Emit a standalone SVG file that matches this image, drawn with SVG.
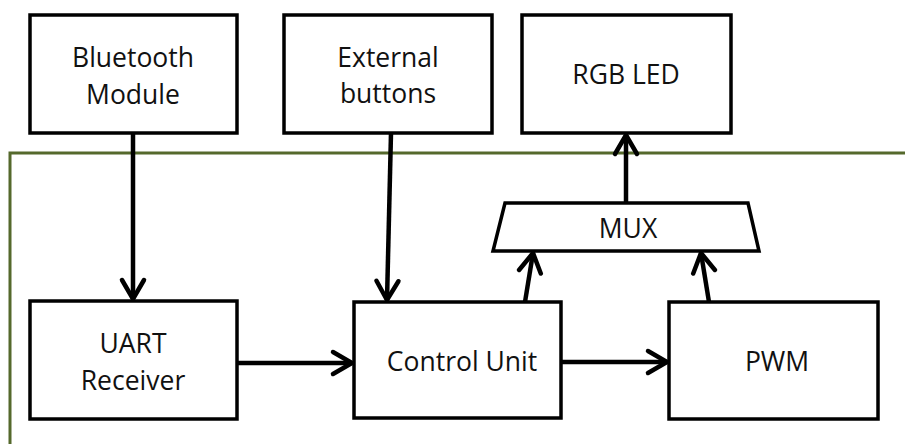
<svg xmlns="http://www.w3.org/2000/svg" width="905" height="444" viewBox="0 0 905 444">
<style>
.box{fill:#fff;stroke:#000;stroke-width:3.5}
.lbl{font-family:"Open Sans","Liberation Sans",sans-serif;font-size:26.5px;fill:#111;text-anchor:middle}
.con{fill:none;stroke:#000;stroke-width:4.5;stroke-linejoin:round}
.head{fill:none;stroke:#000;stroke-width:4.5;stroke-linecap:round;stroke-linejoin:miter}
.frame{fill:none;stroke:#55692c;stroke-width:3}
</style>
<defs>
<marker id="arr" markerUnits="userSpaceOnUse" viewBox="-22 -14 26 28" markerWidth="26" markerHeight="28" refX="0" refY="0" orient="auto" overflow="visible">
<path d="M-19,-11 L0,0 L-19,11" class="head"/>
</marker>
</defs>
<rect width="905" height="444" fill="#fff"/>
<path class="frame" d="M10,444 V153 H905"/>
<g id="connectors">
<line class="con" x1="133" y1="133" x2="133" y2="299" marker-end="url(#arr)"/>
<line class="con" x1="391" y1="133" x2="387" y2="300" marker-end="url(#arr)"/>
<line class="con" x1="626" y1="203" x2="626" y2="135" marker-end="url(#arr)"/>
<line class="con" x1="525" y1="302" x2="533" y2="253" marker-end="url(#arr)"/>
<line class="con" x1="709" y1="302" x2="701" y2="253" marker-end="url(#arr)"/>
<line class="con" x1="237" y1="363" x2="352" y2="363" marker-end="url(#arr)"/>
<line class="con" x1="561" y1="362" x2="667" y2="362" marker-end="url(#arr)"/>
</g>
<g id="bluetooth">
<rect class="box" x="30" y="15" width="207" height="118"/>
<text class="lbl" x="133" y="67">Bluetooth</text>
<text class="lbl" x="133" y="104">Module</text>
</g>
<g id="buttons">
<rect class="box" x="284" y="15" width="208" height="118"/>
<text class="lbl" x="388" y="67">External</text>
<text class="lbl" x="388" y="103">buttons</text>
</g>
<g id="rgbled">
<rect class="box" x="522" y="15" width="209" height="118"/>
<text class="lbl" x="626" y="84">RGB LED</text>
</g>
<g id="mux">
<polygon class="box" points="505,203 748,203 759,251 493,251"/>
<text class="lbl" x="628" y="238">MUX</text>
</g>
<g id="uart">
<rect class="box" x="30" y="301" width="207" height="118"/>
<text class="lbl" x="133" y="353">UART</text>
<text class="lbl" x="133" y="390">Receiver</text>
</g>
<g id="control">
<rect class="box" x="354" y="302" width="207" height="116"/>
<text class="lbl" x="462" y="371">Control Unit</text>
</g>
<g id="pwm">
<rect class="box" x="669" y="302" width="209" height="117"/>
<text class="lbl" x="777" y="371">PWM</text>
</g>
</svg>
